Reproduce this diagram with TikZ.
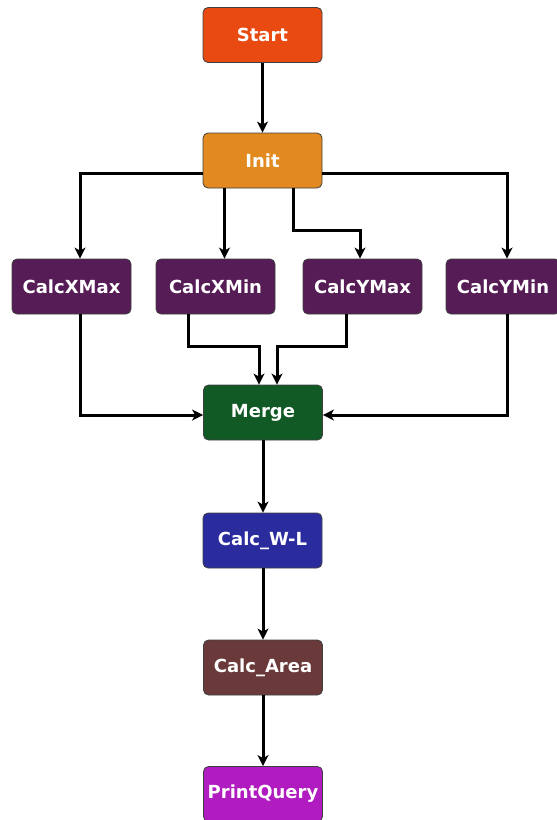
\documentclass[tikz,border=0pt]{standalone}
\usepackage{fontspec}
\setmainfont{DejaVu Sans}
\usetikzlibrary{arrows.meta}

\definecolor{cStart}{HTML}{E84A12}
\definecolor{cInit}{HTML}{E2891F}
\definecolor{cCalc}{HTML}{551C56}
\definecolor{cMerge}{HTML}{115A26}
\definecolor{cWL}{HTML}{2A2C9E}
\definecolor{cArea}{HTML}{6A3A3A}
\definecolor{cPrint}{HTML}{B01CC0}

\tikzset{
  box/.style={draw=black!75, line width=0.8pt, rounded corners=5pt,
    minimum width=119pt, minimum height=55pt, inner sep=0pt,
    text=white, font=\fontsize{18}{20}\selectfont\bfseries},
  flow/.style={draw=black, line width=3pt,
    -{Stealth[length=11pt,width=11pt,inset=3pt]}}
}

\begin{document}
\begin{tikzpicture}[x=1pt,y=-1pt]
\useasboundingbox (0,0) rectangle (557,820);

% process steps
\node[box, fill=cStart] (start) at (262.5,35) {Start};
\node[box, fill=cInit]  (init)  at (262.5,160.5) {Init};
\node[box, fill=cCalc]  (cxmax) at (71.5,286.5) {CalcXMax};
\node[box, fill=cCalc]  (cxmin) at (215.5,286.5) {CalcXMin};
\node[box, fill=cCalc]  (cymax) at (362.5,286.5) {CalcYMax};
\node[box, fill=cCalc, minimum width=114pt] (cymin) at (503,286.5) {CalcYMin};
\node[box, fill=cMerge] (merge) at (263,412.5) {Merge};
\node[box, fill=cWL]    (cwl)   at (262.5,540.5) {Calc\_W-L};
\node[box, fill=cArea]  (carea) at (263,667.5) {Calc\_Area};
\node[box, fill=cPrint] (print) at (263,794) {PrintQuery};

% start -> init
\draw[flow] (start) -- (init);

% init fans out to the four calculations
\draw[flow] ([yshift=-12.5pt]init.west) -| ([xshift=8.5pt]cxmax.north);
\draw[flow] ([xshift=-38pt]init.south) -- ([xshift=-38pt]init.south |- cxmin.north);
\draw[flow] ([xshift=30.5pt]init.south) -- ++(0,42) -| ([xshift=-2.5pt]cymax.north);
\draw[flow] ([yshift=-12.5pt]init.east) -| ([xshift=4pt]cymin.north);

% calculations join at merge
\draw[flow] ([xshift=8.5pt]cxmax.south) |- ([yshift=-2.5pt]merge.west);
\draw[flow] ([xshift=-27.5pt]cxmin.south) -- ++(0,32) -| ([xshift=-4pt]merge.north);
\draw[flow] ([xshift=-16.5pt]cymax.south) -- ++(0,32) -| ([xshift=14pt]merge.north);
\draw[flow] ([xshift=4pt]cymin.south) |- ([yshift=-2.5pt]merge.east);

% remaining chain
\draw[flow] (merge) -- (merge |- cwl.north);
\draw[flow] (cwl.south -| carea) -- (carea);
\draw[flow] (carea) -- (print);
\end{tikzpicture}
\end{document}
